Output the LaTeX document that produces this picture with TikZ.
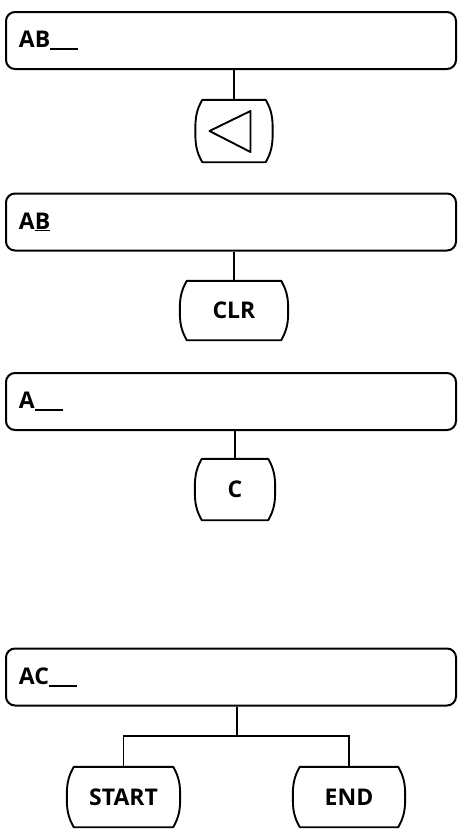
\documentclass[tikz,border=0pt]{standalone}
\usepackage{fontspec}
\setmainfont{Open Sans}
\usetikzlibrary{calc,positioning}
\newcommand{\keytext}{\fontsize{23}{26}\selectfont\bfseries}
\newcommand{\blank}{\rule[-2.5pt]{28pt}{1.8pt}}
\tikzset{display/.style={draw, line width=2pt, rounded corners=9pt, minimum height=57pt, text width=424pt, inner xsep=13pt, align=left, font=\keytext}, keycap/.style={minimum height=61pt, inner sep=0pt, font=\keytext}, keyline/.style={line width=1.9pt, line join=round}, wire/.style={line width=1.9pt}}
\newcommand{\capoutline}[1]{\draw[keyline] ([xshift=7pt]#1.north west) -- ([xshift=-7pt]#1.north east) to[out=-60,in=90] (#1.east) to[out=-90,in=60] ([xshift=-7pt]#1.south east) -- ([xshift=7pt]#1.south west) to[out=120,in=-90] (#1.west) to[out=90,in=-120] ([xshift=7pt]#1.north west) -- cycle;}

\begin{document}
\begin{tikzpicture}[x=1pt,y=1pt]
\useasboundingbox (0,0) rectangle (459,-830);
% step 1: backspace
\node[display] (disp1) at (231,-40.5) {AB\blank};
\node[keycap, minimum width=77pt, minimum height=62pt] (back) at (234,-131) {}; \capoutline{back}
\draw[keyline] ($(back.center)+(-24.5,0)$) -- ($(back.center)+(16.5,20)$) -- ($(back.center)+(16.5,-21)$) -- cycle;
\draw[wire] (disp1.south -| back.north) -- (back.north);
% step 2: clear
\node[display] (disp2) at (231,-222) {A\underline{B}};
\node[keycap, minimum width=108pt, minimum height=59pt] (clr) at (234,-310.5) {CLR}; \capoutline{clr}
\draw[wire] (disp2.south -| clr.north) -- (clr.north);
% step 3: new letter
\node[display] (disp3) at (231,-401.5) {A\blank};
\node[keycap, minimum width=80pt] (cee) at (235,-489.5) {C}; \capoutline{cee}
\draw[wire] (disp3.south -| cee.north) -- (cee.north);
% step 4: start or end
\node[display] (disp4) at (231,-677) {AC\blank};
\node[keycap, minimum width=113pt, minimum height=60pt] (start) at (123.5,-797) {START}; \capoutline{start}
\node[keycap, minimum width=112pt, minimum height=60pt] (finish) at (349,-797) {END}; \capoutline{finish}
\coordinate (fork) at (237,-736);
\draw[wire] (disp4.south -| fork) -- (fork);
\draw[wire] (start.north) |- (fork) -| (finish.north);
\end{tikzpicture}
\end{document}
